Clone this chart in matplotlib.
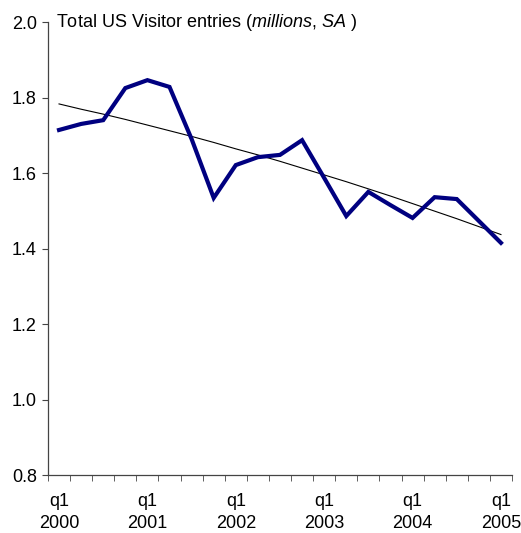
import numpy as np
from matplotlib import pyplot as plt

plt.rcParams['font.family'] = 'Liberation Sans'
plt.rcParams['mathtext.fontset'] = 'custom'
plt.rcParams['mathtext.it'] = 'Liberation Sans:italic'
plt.rcParams['mathtext.rm'] = 'Liberation Sans'

# quarterly visitor entries, 2000q1 .. 2005q1 (millions, SA)
quarters = list(range(21))
entries = [1.714, 1.730, 1.740, 1.825, 1.846, 1.828, 1.690, 1.534, 1.621, 1.642,
           1.648, 1.687, 1.587, 1.486, 1.550, 1.515, 1.481, 1.536, 1.531, 1.473, 1.415]
trend = [1.783, 1.769, 1.756, 1.742, 1.727, 1.712, 1.697, 1.681, 1.664, 1.648,
         1.631, 1.613, 1.595, 1.577, 1.558, 1.539, 1.519, 1.499, 1.479, 1.458, 1.437]
label_pos = [0, 4, 8, 12, 16, 20]
label_txt = ['q1\n2000', 'q1\n2001', 'q1\n2002', 'q1\n2003', 'q1\n2004', 'q1\n2005']
yticks = [0.8, 1.0, 1.2, 1.4, 1.6, 1.8, 2.0]

fig = plt.figure(figsize=(5.21, 5.33), dpi=100)
ax = fig.add_axes([0.0921, 0.1088, 0.8906, 0.8499])

ax.plot(quarters, trend, color='black', lw=0.8)
ax.plot(quarters, entries, color='#000080', lw=3.0, solid_joinstyle='miter')

ax.set_xlim(-0.5, 20.5)
ax.set_ylim(0.8, 2.0)
ax.set_yticks(yticks)
ax.set_yticklabels([f"{v:.1f}" for v in yticks])
ax.set_xticks(label_pos)
ax.set_xticklabels(label_txt, linespacing=1.4)
ax.set_xticks(np.arange(-0.5, 21, 1.0), minor=True)
ax.tick_params(axis='x', which='major', length=0, pad=13, labelsize=13)
ax.tick_params(axis='x', which='minor', length=4, direction='out', color='#444444')
ax.tick_params(axis='y', length=4, direction='out', color='#444444', labelsize=13, pad=4)

for s in ['top', 'right']:
    ax.spines[s].set_visible(False)
for s in ['left', 'bottom']:
    ax.spines[s].set_color('#444444')
    ax.spines[s].set_linewidth(0.9)

ax.text(0.017, 1.0, r"Total US Visitor entries ($\mathit{millions,\,SA}$ )", transform=ax.transAxes,
        fontsize=13, va='center', ha='left')

plt.savefig("out.png", dpi=100)
